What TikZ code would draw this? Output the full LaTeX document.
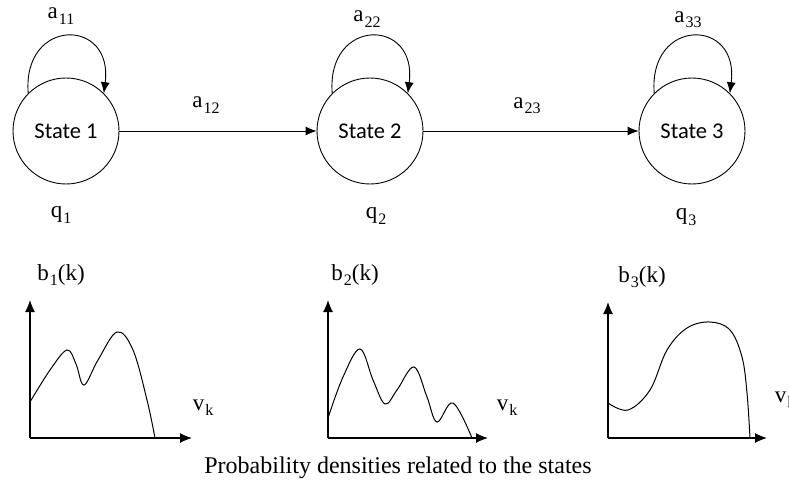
\documentclass[tikz,border=0pt]{standalone}
\usepackage{fontspec}
\setmainfont{Liberation Serif}
\newfontfamily\statefont{Carlito}
\usetikzlibrary{arrows.meta,positioning}
\newcommand{\Sub}[2]{#1\kern1pt\raisebox{-0.5ex}{\fontsize{16}{16}\selectfont #2}}

\begin{document}
\begin{tikzpicture}[
  x=1pt,
  y=-1pt,
  state/.style={circle, draw, line width=0.9pt, minimum size=106pt, inner sep=0pt,
    font=\statefont\fontsize{22.5}{22.5}\selectfont},
  lab/.style={inner sep=0pt, font=\fontsize{23}{23}\selectfont},
  arrow/.style={-{Latex[length=11pt,width=9pt]}, line width=0.9pt},
  axis/.style={-{Latex[length=12pt,width=10pt]}, line width=1.2pt},
  curve/.style={line width=1pt}
]
\useasboundingbox (0,0) rectangle (789,484);

% states
\node[state] (s1) at (66,131) {State 1};
\node[state] (s2) at (370,131) {State 2};
\node[state] (s3) at (692,131) {State 3};

\draw[arrow] (s1) -- (s2);
\draw[arrow] (s2) -- (s3);
\draw[arrow] (s1.135) .. controls +(-6,-76) and +(10,-76) .. (s1.45);
\draw[arrow] (s2.135) .. controls +(-6,-76) and +(10,-76) .. (s2.45);
\draw[arrow] (s3.135) .. controls +(-6,-76) and +(10,-76) .. (s3.45);

\node[lab] (a11) at (61,16) {\Sub{a}{11}};
\node[lab] (a22) at (367,19) {\Sub{a}{22}};
\node[lab] (a33) at (688,20) {\Sub{a}{33}};
\node[lab] (a12) at (206,105) {\Sub{a}{12}};
\node[lab] (a23) at (527,106) {\Sub{a}{23}};

\node[lab] (q1) at (61,215) {\Sub{q}{1}};
\node[lab] (q2) at (376,216) {\Sub{q}{2}};
\node[lab] (q3) at (686,217) {\Sub{q}{3}};

% densities
\coordinate (o1) at (30,438);
\coordinate (o2) at (328,438);
\coordinate (o3) at (608,438);
\draw[axis] (o1) -- (30,300);
\draw[axis] (o1) -- (192,438);
\draw[axis] (o2) -- (328,300);
\draw[axis] (o2) -- (488,438);
\draw[axis] (o3) -- (608,302);
\draw[axis] (o3) -- (767,438);

\draw[curve] plot[smooth, tension=0.6] coordinates {(30,402) (50,370) (67,350) (76,364) (84,385)
  (98,360) (117,332) (133,350) (147,400) (155,438)};
\draw[curve] plot[smooth, tension=0.6] coordinates {(328,418) (343,377) (360,349) (373,380) (385,404)
  (397,390) (414,367) (427,397) (437,422) (453,403) (472,438)};
\draw[curve] plot[smooth, tension=0.6] coordinates {(608,403) (628,410) (650,390) (667,350) (687,328)
  (710,322) (730,330) (742,357) (747,393) (750,438)};

\node[lab] (b1) at (61,275) {\Sub{b}{1}(k)};
\node[lab] (b2) at (355,275) {\Sub{b}{2}(k)};
\node[lab] (b3) at (642,277) {\Sub{b}{3}(k)};
\node[lab] (v1) at (203,408) {\Sub{v}{k}};
\node[lab] (v2) at (507,408) {\Sub{v}{k}};
\node[lab] (v3) at (785,400) {\Sub{v}{k}};

\node[lab, font=\fontsize{24}{24}\selectfont] (caption) at (398,468)
  {Probability densities related to the states};
\end{tikzpicture}
\end{document}
